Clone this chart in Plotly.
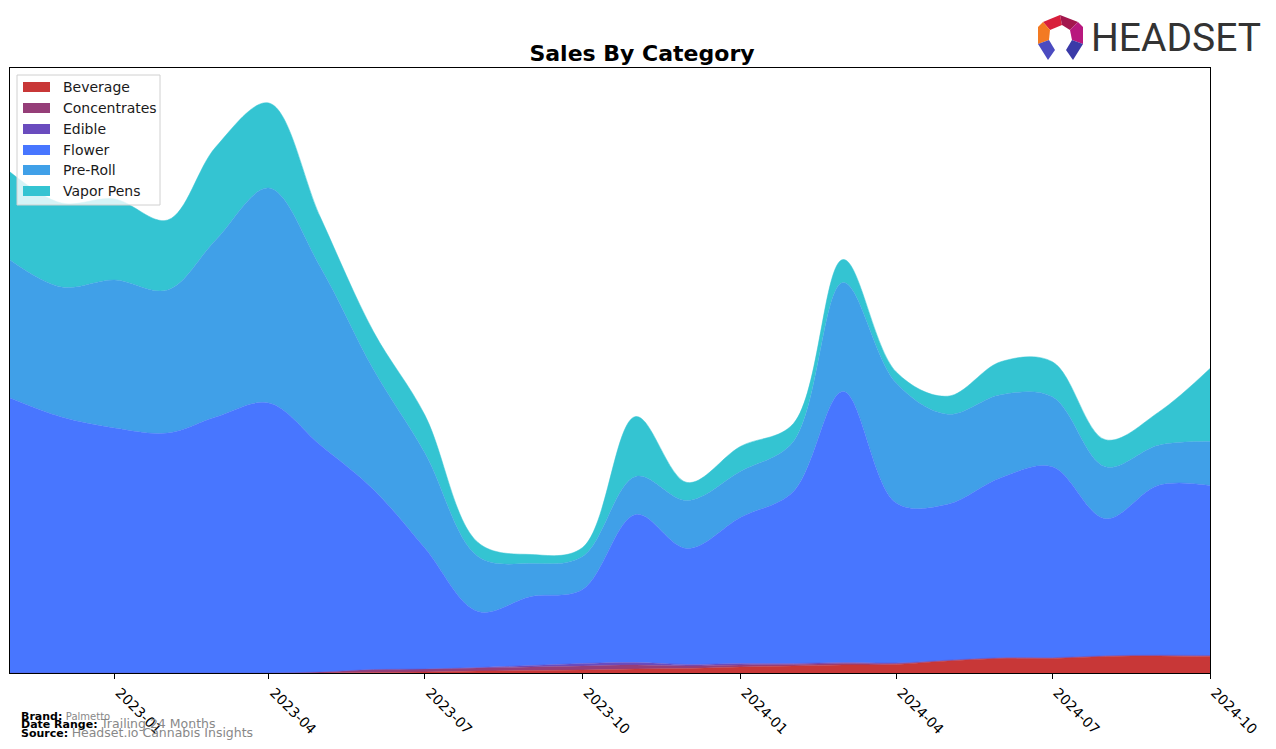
import plotly.graph_objects as go

months = ["2022-11-01", "2022-12-01", "2023-01-01", "2023-02-01", "2023-03-01", "2023-04-01",
          "2023-05-01", "2023-06-01", "2023-07-01", "2023-08-01", "2023-09-01", "2023-10-01",
          "2023-11-01", "2023-12-01", "2024-01-01", "2024-02-01", "2024-03-01", "2024-04-01",
          "2024-05-01", "2024-06-01", "2024-07-01", "2024-08-01", "2024-09-01", "2024-10-01"]

beverage = [0, 0, 0, 0, 0, 0, 0, 0.5, 1, 2, 2.5, 3, 4, 4.5, 6, 7, 8, 8.5, 12, 14.5, 14.5, 16.5, 17, 16.5]
concentrates = [0, 0, 0, 0, 0, 0, 1, 3, 3, 3, 3.5, 4, 4, 2.5, 2, 1.5, 1.5, 1, 0.8, 0.8, 0.8, 0.8, 0.8, 1]
edible = [0, 0, 0, 0, 0, 0, 0, 0, 0, 0.5, 1.5, 2.5, 2.5, 1.5, 1.5, 1, 1, 0.5, 0, 0, 0, 0, 0, 0]
flower = [275, 256, 245, 240, 256, 270, 227, 180, 121, 56, 69, 74, 148, 116, 146, 172, 271, 160, 156, 180, 191, 137, 170, 170]
preroll = [138, 130, 148, 143, 177, 215, 178, 120, 95, 55, 33, 33, 38, 48, 46, 50, 109, 120, 90, 83, 70, 52, 40, 44]
vapor = [88, 84, 81, 70, 93, 85, 50, 38, 38, 14, 9, 9, 60, 18, 25, 18, 23, 11, 18, 33, 35, 27, 33, 73]

series = [
    ("Beverage", beverage, "#C83737"),
    ("Concentrates", concentrates, "#953E78"),
    ("Edible", edible, "#6A4CBE"),
    ("Flower", flower, "#4876FF"),
    ("Pre-Roll", preroll, "#40A0E8"),
    ("Vapor Pens", vapor, "#34C4D2"),
]

tick_vals = ["2023-01-01", "2023-04-01", "2023-07-01", "2023-10-01",
             "2024-01-01", "2024-04-01", "2024-07-01", "2024-10-01"]
tick_text = ["2023-01", "2023-04", "2023-07", "2023-10",
             "2024-01", "2024-04", "2024-07", "2024-10"]

# page body has an 8px margin; target positions below are in screenshot pixels
OFF = 8
W, H = 1276 - OFF, 749 - OFF
PL, PR, PT, PB = 10, 1210, 68, 673          # plot area in screenshot pixels
ML, MT = PL - OFF, PT - OFF
PW, PH = PR - PL, PB - PT
MR, MB = W - ML - PW, H - MT - PH


def px(x):
    return (x - PL) / PW


def py(y):
    return (PB - y) / PH


fig = go.Figure()
for name, vals, col in series:
    fig.add_trace(go.Scatter(
        x=months, y=vals, name=name, mode="lines",
        stackgroup="one", fillcolor=col,
        line=dict(color=col, width=0.5, shape="spline", smoothing=1.0),
        hoverinfo="x+y+name", showlegend=False,
    ))

font_family = "DejaVu Sans, Verdana, sans-serif"

fig.update_layout(
    width=W, height=H,
    margin=dict(l=ML, r=MR, t=MT, b=MB, pad=0),
    paper_bgcolor="white", plot_bgcolor="white",
    font=dict(family=font_family, color="black", size=14),
    title=dict(text="<b>Sales By Category</b>", x=px(610), xanchor="center",
               y=1 - (53 - OFF) / H, yanchor="middle", font=dict(size=22, color="black")),
    showlegend=False,
    xaxis=dict(type="date", range=[months[0], months[-1]], tickvals=tick_vals, ticktext=tick_text,
               tickangle=45, ticks="outside", ticklen=5, tickcolor="black", ticklabelshift=5,
               showline=True, linecolor="black", linewidth=1, mirror=True,
               showgrid=False, zeroline=False, tickfont=dict(size=14)),
    yaxis=dict(range=[0, 605], showticklabels=False, ticks="", showgrid=False, zeroline=False,
               showline=True, linecolor="black", linewidth=1, mirror=True),
)

# Legend (drawn manually to get matplotlib-style rectangular swatches)
fig.add_shape(type="rect", xref="paper", yref="paper",
              x0=px(17), x1=px(160), y0=py(205), y1=py(75),
              fillcolor="rgba(255,255,255,0.8)", line=dict(color="#d0d0d0", width=1))
row_y = [87, 108, 129, 150, 170, 191]
for (name, _, col), yy in zip(series, row_y):
    fig.add_shape(type="rect", xref="paper", yref="paper",
                  x0=px(23), x1=px(50), y0=py(yy + 5), y1=py(yy - 5),
                  fillcolor=col, line=dict(width=0))
    fig.add_annotation(text=name, x=px(61), y=py(yy), xref="paper", yref="paper",
                       xanchor="left", yanchor="middle", showarrow=False,
                       font=dict(size=14, color="#1a1a1a", family=font_family))

# Footer
footer = [
    (716, "<b>Brand:</b> <span style='color:#888888;font-size:10px'>Palmetto</span>"),
    (724, "<b>Date Range:</b> <span style='color:#888888;font-size:12.5px'>Trailing 24 Months</span>"),
    (732, "<b>Source:</b> <span style='color:#888888;font-size:12.5px'>Headset.io Cannabis Insights</span>"),
]
for yy, txt in footer:
    fig.add_annotation(text=txt, x=px(19), y=py(yy), xref="paper", yref="paper",
                       xanchor="left", yanchor="middle", showarrow=False,
                       font=dict(size=11, color="black", family=font_family))

# Logo
logo_polys = [
    ([(1043, 22), (1060, 15), (1062, 25), (1050, 30)], "#D81F3C"),
    ([(1060, 15), (1078, 22), (1070, 30), (1062, 25)], "#A3164D"),
    ([(1038, 27), (1043, 22), (1050, 30), (1049, 40), (1038, 44)], "#F37A22"),
    ([(1078, 22), (1083, 27), (1083, 44), (1072, 40), (1070, 30)], "#B8187E"),
    ([(1038, 44), (1049, 40), (1055, 50), (1048, 60)], "#4B4BC0"),
    ([(1083, 44), (1072, 40), (1066, 50), (1073, 60)], "#3A3AA8"),
]
for pts, col in logo_polys:
    path = "M " + " L ".join(f"{px(x):.5f} {py(y):.5f}" for x, y in pts) + " Z"
    fig.add_shape(type="path", path=path, xref="paper", yref="paper",
                  fillcolor=col, line=dict(width=0))
fig.add_annotation(text="HEADSET", x=px(1176), y=py(38), xref="paper", yref="paper",
                   xanchor="center", yanchor="middle", showarrow=False,
                   font=dict(size=39, color="#333333", family="Roboto, sans-serif"))

fig.write_html("out.html")
